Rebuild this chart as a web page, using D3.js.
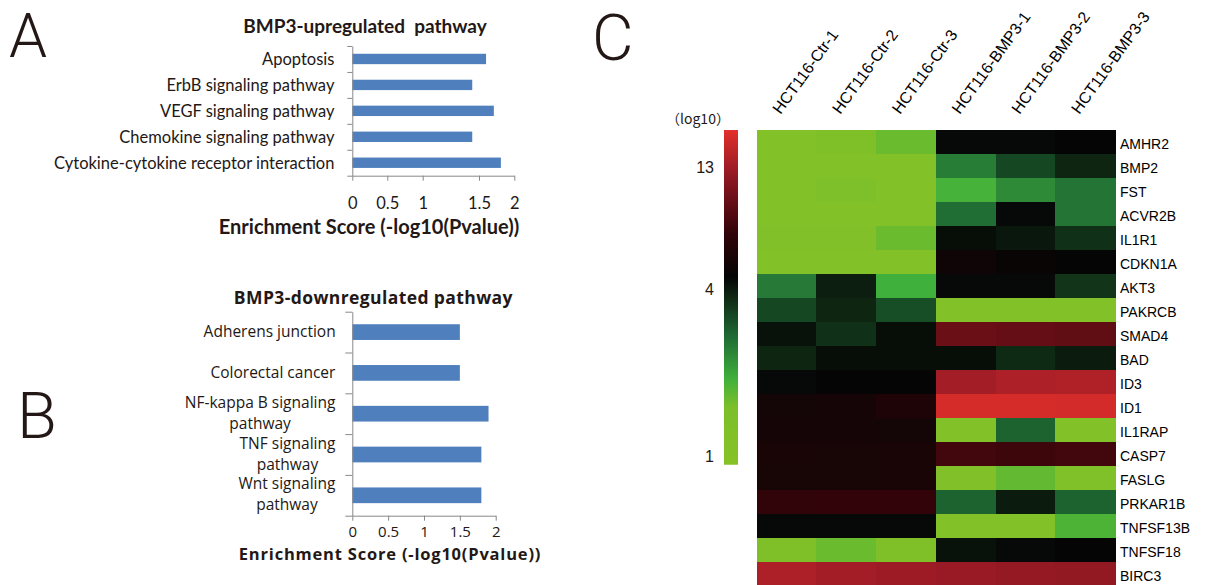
<!DOCTYPE html>
<html>
<head>
<meta charset="utf-8">
<script src="https://cdn.jsdelivr.net/npm/d3@7"></script>
<style>
  body { margin: 0; background: #fff; }
  svg { display: block; }
</style>
</head>
<body>
<script>
// panel A / B: enrichment scores
var upPathways = [
    "Apoptosis",
    "ErbB signaling pathway",
    "VEGF signaling pathway",
    "Chemokine signaling pathway",
    "Cytokine-cytokine receptor interaction",
];
var upScores = [1.6, 1.44, 1.71, 1.44, 1.81];

var downPathways = [
    "Adherens junction",
    "Colorectal cancer",
    "NF-kappa B signaling pathway",
    "TNF signaling pathway",
    "Wnt signaling pathway",
];
var downScores = [1.5, 1.5, 1.9, 1.8, 1.8];

var scoreTicks = [0, 0.5, 1, 1.5, 2];

// panel C: heatmap
var samples = [
    "HCT116-Ctr-1", "HCT116-Ctr-2", "HCT116-Ctr-3",
    "HCT116-BMP3-1", "HCT116-BMP3-2", "HCT116-BMP3-3",
];
var genes = [
    "AMHR2", "BMP2", "FST", "ACVR2B", "IL1R1", "CDKN1A", "AKT3", "PAKRCB",
    "SMAD4", "BAD", "ID3", "ID1", "IL1RAP", "CASP7", "FASLG", "PRKAR1B",
    "TNFSF13B", "TNFSF18", "BIRC3",
];
var expression = [
    [1.1, 1.3, 1.6, 4.4, 4.4, 4.5],
    [1.1, 1.1, 1.1, 2.45, 3.2, 3.8],
    [1.1, 1.35, 1.1, 1.85, 2.3, 2.55],
    [1.1, 1.1, 1.1, 2.65, 4.4, 2.55],
    [1.2, 1.2, 1.6, 4.3, 4.1, 3.6],
    [1.1, 1.1, 1.1, 5.0, 4.7, 4.5],
    [2.5, 3.95, 1.9, 4.4, 4.4, 3.5],
    [3.2, 3.8, 3.1, 1.1, 1.1, 1.1],
    [4.2, 3.6, 4.3, 9.6, 9.3, 9.0],
    [3.8, 4.3, 4.3, 4.3, 3.7, 4.0],
    [4.4, 4.5, 4.5, 13.2, 14, 14.2],
    [5.2, 5.3, 5.8, 17.5, 17.5, 17.2],
    [5.3, 5.3, 5.2, 1.1, 2.8, 1.1],
    [5.5, 5.4, 5.5, 7.5, 7.3, 7.5],
    [5.4, 5.4, 5.5, 1.2, 1.65, 1.25],
    [6.8, 6.9, 6.9, 2.8, 4.0, 2.8],
    [4.4, 4.4, 4.4, 1.15, 1.15, 1.8],
    [1.3, 1.6, 1.3, 4.2, 4.4, 4.5],
    [14, 13.2, 12.7, 12.5, 12.2, 12.0],
];

var legendTicks = [1, 4, 13];
var legendStops = [0.93, 1.5, 1.9, 2.7, 3.7, 4.5, 6.8, 10.5, 13, 18.7];
var legendColors = [
    "#86c226", "#7cbf2a", "#3fb03b", "#1f6a34", "#0f2a14",
    "#050505", "#300408", "#7a121b", "#a01c26", "#e2302a",
];

var BAR = "#4f7fbd";
var AXIS = "#898989";
var INK = "#231815";

var svg = d3.select("body").append("svg")
    .attr("width", 1208)
    .attr("height", 585);

svg.append("rect").attr("width", 1208).attr("height", 585).attr("fill", "#fff");

// panel letters
function letter(t, x, y, size) {
    svg.append("text")
        .attr("x", x).attr("y", y)
        .attr("font-family", "Roboto, 'Liberation Sans', sans-serif")
        .attr("font-weight", 300)
        .attr("font-size", size)
        .attr("fill", INK)
        .text(t);
}
letter("A", 9, 57, 61);
letter("B", 17, 438.3, 65);
letter("C", 592, 60, 64);

// ---------- panel A ----------
var gA = svg.append("g");
var yA = d3.scaleBand().domain(upPathways).range([46, 175.7])
    .paddingInner(0.6).paddingOuter(0.3);
var xA = d3.scaleLinear().domain(scoreTicks)
    .range([352.3, 387.3, 422.7, 479, 514.3]); // axis as printed, uneven
var idxA = d3.scaleLinear().domain([0, upPathways.length]).range([46, 175.7]);

gA.selectAll("rect.bar")
    .data(upPathways)
    .enter()
    .append("rect")
    .attr("x", xA(0))
    .attr("y", function (d) { return yA(d); })
    .attr("width", function (d, i) { return xA(upScores[i]) - xA(0); })
    .attr("height", yA.bandwidth())
    .attr("fill", BAR);

var axAy = gA.append("g")
    .attr("transform", "translate(" + xA(0) + ",0)")
    .call(d3.axisLeft(idxA).ticks(upPathways.length).tickSize(5).tickSizeOuter(0).tickFormat(""));
var axAx = gA.append("g")
    .attr("transform", "translate(0,175.7)")
    .call(d3.axisBottom(xA).tickValues(scoreTicks).tickSize(5).tickSizeOuter(0)
        .tickPadding(17).tickFormat(function (d) { return String(d); }));

[axAy, axAx].forEach(function (a) {
    a.selectAll("path, line").attr("stroke", AXIS);
});
axAx.selectAll("text")
    .attr("font-family", "Lato, sans-serif")
    .attr("font-size", 16.5)
    .attr("fill", INK);

gA.selectAll("text.lab")
    .data(upPathways)
    .enter()
    .append("text")
    .attr("x", 334.4)
    .attr("y", function (d) { return yA(d) + yA.bandwidth() / 2 + 6.5; })
    .attr("text-anchor", "end")
    .attr("font-family", "Lato, sans-serif")
    .attr("font-size", 16.5)
    .attr("fill", INK)
    .text(function (d) { return d; });

gA.append("text")
    .attr("x", 365).attr("y", 33.3)
    .attr("text-anchor", "middle")
    .attr("font-family", "Lato, sans-serif")
    .attr("font-weight", "bold")
    .attr("font-size", 19)
    .attr("fill", INK)
    .attr("xml:space", "preserve")
    .text("BMP3-upregulated  pathway");

gA.append("text")
    .attr("x", 369).attr("y", 234.3)
    .attr("text-anchor", "middle")
    .attr("font-family", "Lato, sans-serif")
    .attr("font-weight", "bold")
    .attr("font-size", 20)
    .attr("fill", INK)
    .text("Enrichment Score (-log10(Pvalue))");

// ---------- panel B ----------
var gB = svg.append("g");
var yB = d3.scaleBand().domain(downPathways).range([311.7, 515.7])
    .paddingInner(0.615).paddingOuter(0.3075);
var xB = d3.scaleLinear().domain([0, 2]).range([352.3, 495.7]);
var idxB = d3.scaleLinear().domain([0, downPathways.length]).range([311.7, 515.7]);

gB.selectAll("rect.bar")
    .data(downPathways)
    .enter()
    .append("rect")
    .attr("x", xB(0))
    .attr("y", function (d) { return yB(d); })
    .attr("width", function (d, i) { return xB(downScores[i]) - xB(0); })
    .attr("height", yB.bandwidth())
    .attr("fill", BAR);

var axBy = gB.append("g")
    .attr("transform", "translate(" + xB(0) + ",0)")
    .call(d3.axisLeft(idxB).ticks(downPathways.length).tickSize(7).tickSizeOuter(0).tickFormat(""));
var axBx = gB.append("g")
    .attr("transform", "translate(0,515.7)")
    .call(d3.axisBottom(xB).tickValues(scoreTicks).tickSize(5).tickSizeOuter(0)
        .tickPadding(5.5).tickFormat(function (d) { return String(d); }));

[axBy, axBx].forEach(function (a) {
    a.selectAll("path, line").attr("stroke", AXIS);
});
axBx.selectAll("text")
    .attr("font-family", "'Open Sans', sans-serif")
    .attr("font-size", 15)
    .attr("fill", INK);

// long names wrap before "pathway"
function wrapName(d) {
    return d.length > 20 ? [d.replace(/ pathway$/, ""), "pathway"] : [d];
}

downPathways.forEach(function (d) {
    var c = yB(d) + yB.bandwidth() / 2;
    var lines = wrapName(d);
    var t = gB.append("text")
        .attr("text-anchor", "middle")
        .attr("font-family", "'Open Sans', sans-serif")
        .attr("font-size", 15.5)
        .attr("fill", INK);
    lines.forEach(function (ln, i) {
        t.append("tspan")
            .attr("x", 0)
            .attr("y", lines.length === 1 ? c + 5.3 : c + (i === 0 ? -6 : 15))
            .text(ln);
    });
    var w = t.node().getBBox().width;
    t.selectAll("tspan").attr("x", 335.7 - w / 2);
});

gB.append("text")
    .attr("x", 373.4).attr("y", 303.5)
    .attr("text-anchor", "middle")
    .attr("font-family", "'Open Sans', sans-serif")
    .attr("font-weight", "bold")
    .attr("font-size", 17.5)
    .attr("letter-spacing", 0.4)
    .attr("fill", INK)
    .text("BMP3-downregulated pathway");

gB.append("text")
    .attr("x", 390).attr("y", 559.5)
    .attr("text-anchor", "middle")
    .attr("font-family", "'Open Sans', sans-serif")
    .attr("font-weight", "bold")
    .attr("font-size", 16.5)
    .attr("letter-spacing", 0.8)
    .attr("fill", INK)
    .text("Enrichment Score (-log10(Pvalue))");

// ---------- panel C ----------
var gC = svg.append("g");
var xC = d3.scaleBand().domain(samples).range([756.7, 1115]);
var yC = d3.scaleBand().domain(genes).range([130, 586]);
var colorScale = d3.scaleLog().domain(legendStops).range(legendColors).clamp(true);

var rows = gC.selectAll("g.row")
    .data(expression)
    .enter()
    .append("g")
    .attr("transform", function (d, i) { return "translate(0," + yC(genes[i]) + ")"; });

rows.selectAll("rect")
    .data(function (d) { return d; })
    .enter()
    .append("rect")
    .attr("x", function (d, j) { return xC(samples[j]); })
    .attr("width", xC.bandwidth() + 0.5)
    .attr("height", yC.bandwidth() + 0.5)
    .attr("fill", function (d) { return colorScale(d); })
    .attr("shape-rendering", "crispEdges");

gC.selectAll("text.gene")
    .data(genes)
    .enter()
    .append("text")
    .attr("x", 1120)
    .attr("y", function (d) { return yC(d) + yC.bandwidth() / 2 + 7.3; })
    .attr("font-family", "'Liberation Sans', Arial, sans-serif")
    .attr("font-size", 14)
    .attr("fill", "#000")
    .text(function (d) { return d; });

gC.selectAll("text.sample")
    .data(samples)
    .enter()
    .append("text")
    .attr("transform", function (d) {
        return "translate(" + (xC(d) + xC.bandwidth() / 2 - 6) + ",115) rotate(-54)";
    })
    .attr("font-family", "'Liberation Sans', Arial, sans-serif")
    .attr("font-size", 16)
    .attr("fill", "#000")
    .text(function (d) { return d; });

// colour bar
var yLeg = d3.scaleLog().domain(legendTicks).range([456, 289, 167.5]);
var barTop = yLeg(legendStops[legendStops.length - 1]);
var barBot = yLeg(legendStops[0]);

var grad = svg.append("defs").append("linearGradient")
    .attr("id", "legGrad")
    .attr("x1", 0).attr("y1", 1).attr("x2", 0).attr("y2", 0);
grad.selectAll("stop")
    .data(legendStops)
    .enter()
    .append("stop")
    .attr("offset", function (d) { return (barBot - yLeg(d)) / (barBot - barTop); })
    .attr("stop-color", function (d) { return colorScale(d); });

gC.append("rect")
    .attr("x", 724).attr("y", barTop)
    .attr("width", 14).attr("height", barBot - barTop)
    .attr("fill", "url(#legGrad)");

gC.selectAll("text.leg")
    .data(legendTicks)
    .enter()
    .append("text")
    .attr("x", 714)
    .attr("y", function (d) { return yLeg(d) + 5.8; })
    .attr("text-anchor", "end")
    .attr("font-family", "'Liberation Sans Narrow', 'Liberation Sans', sans-serif")
    .attr("font-stretch", "condensed")
    .attr("font-size", 16)
    .attr("fill", INK)
    .text(function (d) { return d; });

gC.append("text")
    .attr("x", 666).attr("y", 124)
    .attr("font-family", "'Liberation Sans Narrow', 'Noto Sans CJK SC', sans-serif")
    .attr("font-stretch", "condensed")
    .attr("font-size", 14)
    .attr("fill", INK)
    .text("（log10）");
</script>
</body>
</html>
